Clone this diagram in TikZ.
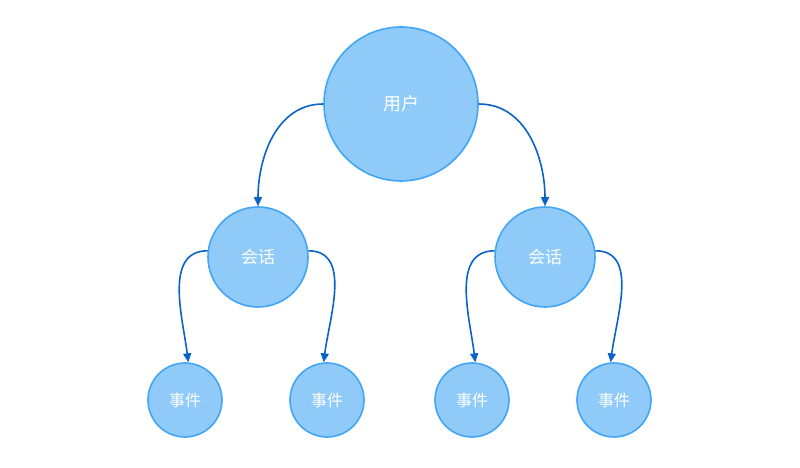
\documentclass[tikz,border=0pt]{standalone}
\usepackage{fontspec}
\newfontfamily\cjk{Noto Sans CJK SC}
\usetikzlibrary{arrows.meta}
\definecolor{cfill}{HTML}{90CAF9}
\definecolor{cline}{HTML}{42A5F5}
\definecolor{carrow}{HTML}{0B62C8}
\begin{document}
\begin{tikzpicture}[x=1pt,y=1pt,
  bub/.style={circle,draw=cline,fill=cfill,line width=1.6pt,text=white,inner sep=0pt,font=\cjk},
  big/.style={bub,minimum size=154pt,font=\cjk\fontsize{18}{21}\selectfont},
  mid/.style={bub,minimum size=100pt,font=\cjk\fontsize{17}{20}\selectfont},
  sml/.style={bub,minimum size=74pt,font=\cjk\fontsize{16}{19}\selectfont},
  conn/.style={draw=carrow,line width=1.6pt,-{Triangle[length=9pt,width=8pt]}}]
\useasboundingbox (0,0) rectangle (800,468);
\node[big] (u) at (401,364) {用户};
\node[mid] (sa) at (258,211) {会话};
\node[mid] (sb) at (545,211) {会话};
\node[sml] (e1) at (185,68) {事件};
\node[sml] (e2) at (327,68) {事件};
\node[sml] (e3) at (472,68) {事件};
\node[sml] (e4) at (614,68) {事件};
\draw[conn] (u.west) to[out=180,in=90] (sa.north);
\draw[conn] (u.east) to[out=0,in=90] (sb.north);
\draw[conn] (sa.173) to[out=180,in=97] (e1.85);
\draw[conn] (sa.7) to[out=0,in=83] (e2.95);
\draw[conn] (sb.173) to[out=180,in=97] (e3.85);
\draw[conn] (sb.7) to[out=0,in=83] (e4.95);
\end{tikzpicture}
\end{document}
